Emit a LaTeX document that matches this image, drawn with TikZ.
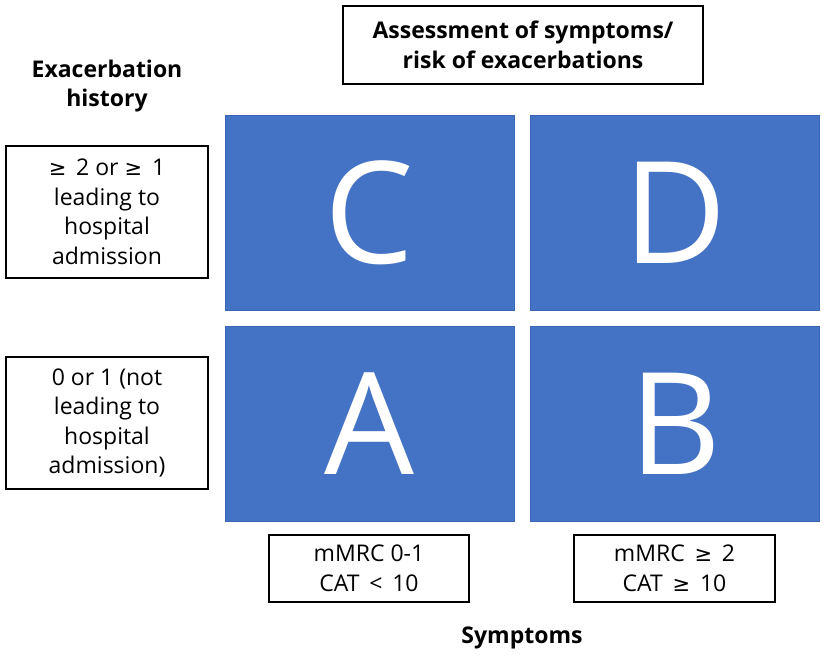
\documentclass[tikz,border=0pt]{standalone}
\usepackage{fontspec}
\setmainfont{Open Sans}
\newfontfamily\symfont{DejaVu Sans}
\newcommand{\mygeq}{{\symfont\fontsize{21}{29.5}\selectfont ≥}}
\definecolor{qblue}{HTML}{4472C4}
\definecolor{qedge}{HTML}{3A66B5}
\begin{document}
\begin{tikzpicture}[x=1pt,y=-1pt,
  quad/.style={fill=qblue,draw=qedge,line width=0.8pt,minimum width=289pt,minimum height=195pt,inner sep=0pt,
    font=\fontsize{142}{142}\selectfont,text=white},
  lbox/.style={draw=black,line width=1.8pt,fill=white,inner sep=0pt,align=center,
    font=\fontsize{23}{29.5}\selectfont},
  htext/.style={align=center,inner sep=0pt,font=\fontsize{23}{28.5}\selectfont\bfseries}]
\useasboundingbox[fill=white] (0,0) rectangle (827,659);
% quadrants
\node[quad] (C) at (369.5,212.5) {C};
\node[quad] (D) at (675,212.5) {D};
\node[quad] (A) at (369.5,423.5) {A};
\node[quad] (B) at (675,423.5) {B};
% header box
\node[lbox,minimum width=360pt,minimum height=78pt,font=\fontsize{23}{29.5}\selectfont\bfseries] (top) at (523,45) {Assessment of symptoms/\\risk of exacerbations};
% left title
\node[htext] (hist) at (107,86) {Exacerbation\\history};
% left boxes
\node[lbox,minimum width=202pt,minimum height=132pt] (hi) at (107,212) {\mygeq\,\ 2 or \mygeq\,\ 1\\leading to\\hospital\\admission};
\node[lbox,minimum width=202pt,minimum height=132pt] (lo) at (107,423) {0 or 1 (not\\leading to\\hospital\\admission)};
% bottom boxes
\node[lbox,minimum width=200pt,minimum height=67pt] (s1) at (369,568.5) {mMRC 0-1\\CAT \,<\, 10};
\node[lbox,minimum width=201pt,minimum height=67pt] (s2) at (674.5,568.5) {mMRC \,\mygeq\,\ 2\\CAT \,\mygeq\,\ 10};
% bottom title
\node[htext] (sym) at (522,638) {Symptoms};
\end{tikzpicture}
\end{document}
